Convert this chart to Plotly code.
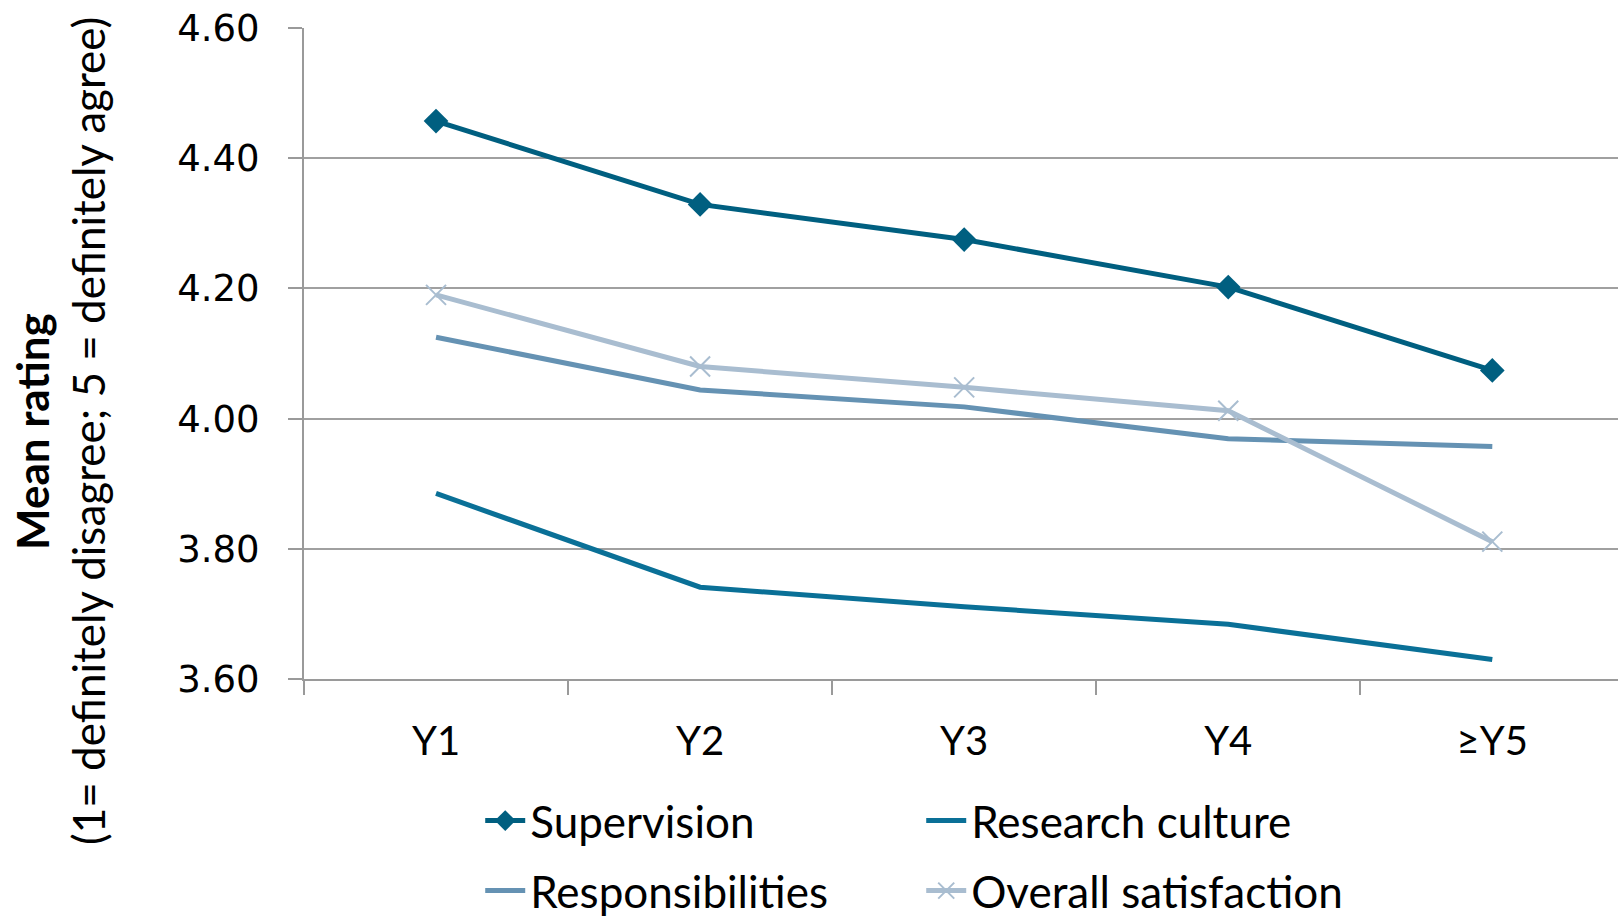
import plotly.graph_objects as go

categories = ["Y1", "Y2", "Y3", "Y4", "≥Y5"]
supervision = [4.457, 4.329, 4.275, 4.202, 4.074]
research_culture = [3.885, 3.741, 3.711, 3.684, 3.630]
responsibilities = [4.125, 4.044, 4.018, 3.969, 3.957]
overall_satisfaction = [4.190, 4.080, 4.048, 4.012, 3.811]
y_ticks = [3.6, 3.8, 4.0, 4.2, 4.4, 4.6]
y_tick_labels = ["3.60", "3.80", "4.00", "4.20", "4.40", "4.60"]

TXT = "Lato"
L, R, T, B = 304, 0, 28, 240
W, H = 1618, 919
PW, PH = W - L - R, H - T - B


def px_x(px):
    return (px - L) / PW


def px_y(py):
    return (H - B - py) / PH


fig = go.Figure()
fig.add_trace(go.Scatter(x=categories, y=supervision, name="Supervision", mode="lines+markers",
                         line=dict(color="#005f80", width=5), legend="legend",
                         marker=dict(symbol="diamond", size=19, color="#005f80")))
fig.add_trace(go.Scatter(x=categories, y=research_culture, name="Research culture", mode="lines",
                         line=dict(color="#0a7097", width=5), legend="legend"))
fig.add_trace(go.Scatter(x=categories, y=responsibilities, name="Responsibilities", mode="lines",
                         line=dict(color="#6592b3", width=5), legend="legend2"))
fig.add_trace(go.Scatter(x=categories, y=overall_satisfaction, name="Overall satisfaction", mode="lines+markers",
                         line=dict(color="#a9bdd0", width=5), legend="legend2",
                         marker=dict(symbol="x-thin-open", size=20, color="#a9bdd0",
                                     line=dict(color="#a9bdd0", width=2))))

leg_common = dict(orientation="h", xref="container", yref="container",
                  xanchor="left", yanchor="middle",
                  entrywidth=386, entrywidthmode="pixels",
                  font=dict(family=TXT, size=44, color="black"),
                  bgcolor="rgba(0,0,0,0)", itemwidth=40)

fig.update_layout(
    width=W, height=H,
    margin=dict(l=L, r=R, t=T, b=B),
    plot_bgcolor="white", paper_bgcolor="white",
    font=dict(family=TXT, color="black"),
    showlegend=True,
    legend=dict(x=0.2968, y=1 - 821 / 919, **leg_common),
    legend2=dict(x=0.2968, y=1 - 891 / 919, **leg_common),
)
fig.update_xaxes(type="category", range=[-0.5, 4.476], showgrid=False,
                 showline=True, linecolor="#9a9a9a", linewidth=2,
                 ticks="outside", tickson="boundaries", ticklen=14, tickwidth=2, tickcolor="#9a9a9a",
                 tickfont=dict(family=TXT, size=40, color="black"), ticklabelstandoff=26)
fig.update_yaxes(range=[3.6, 4.6], tickvals=y_ticks, ticktext=y_tick_labels,
                 showgrid=True, gridcolor="#a0a0a0", gridwidth=2,
                 showline=True, linecolor="#9a9a9a", linewidth=2,
                 ticks="outside", ticklen=14, tickwidth=2, tickcolor="#9a9a9a",
                 tickfont=dict(family="DejaVu Sans", size=37, color="black"),
                 ticklabelstandoff=21, zeroline=False)

fig.add_annotation(xref="paper", yref="paper", x=px_x(32), y=px_y(432),
                   xanchor="center", yanchor="middle", textangle=-90, showarrow=False,
                   text="<b>Mean rating</b>", font=dict(family=TXT, size=44, color="black"))
fig.add_annotation(xref="paper", yref="paper", x=px_x(88), y=px_y(431),
                   xanchor="center", yanchor="middle", textangle=-90, showarrow=False,
                   text="(1= definitely disagree; 5 = definitely agree)",
                   font=dict(family=TXT, size=44, color="black"))

fig.write_html("out.html")
